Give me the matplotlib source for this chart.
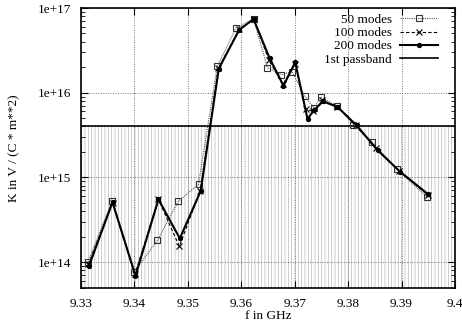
import math
import matplotlib
matplotlib.use("Agg")
import matplotlib.pyplot as plt
from matplotlib.lines import Line2D
from matplotlib.ticker import FixedLocator, LogLocator, FuncFormatter, NullFormatter

plt.rcParams['font.family'] = ['Liberation Serif', 'DejaVu Serif']
plt.rcParams['font.size'] = 9

# 50 modes
f50 = [9.3313, 9.3358, 9.3399, 9.3443, 9.3482, 9.3520, 9.3555, 9.3590, 9.3623, 9.3649,
       9.3675, 9.3695, 9.3719, 9.3736, 9.3749, 9.3780, 9.3810, 9.3845, 9.3892, 9.3947]
k50 = [1.0e14, 5.2e14, 7.6e13, 1.8e14, 5.2e14, 8.3e14, 2.04e16, 5.8e16, 7.4e16, 1.97e16,
       1.63e16, 1.77e16, 9.1e15, 6.6e15, 8.9e15, 6.9e15, 4.2e15, 2.6e15, 1.24e15, 5.9e14]

# 100 modes
f100 = [9.3314, 9.3359, 9.3401, 9.3445, 9.3484, 9.3523, 9.3557, 9.3596, 9.3623, 9.3652,
        9.3678, 9.3700, 9.3721, 9.3735, 9.3752, 9.3780, 9.3814, 9.3852, 9.3895, 9.3949]
k100 = [9.5e13, 5.0e14, 7.2e13, 5.5e14, 1.53e14, 6.9e14, 1.95e16, 5.6e16, 7.4e16, 2.4e16,
        1.25e16, 2.2e16, 6.4e15, 6.0e15, 8.1e15, 6.8e15, 4.1e15, 2.2e15, 1.2e15, 6.2e14]

# 200 modes
f200 = [9.3315, 9.3359, 9.3402, 9.3445, 9.3485, 9.3524, 9.3558, 9.3596, 9.3623, 9.3653,
        9.3679, 9.3701, 9.3724, 9.3736, 9.3753, 9.3780, 9.3816, 9.3855, 9.3897, 9.3950]
k200 = [9.0e13, 5.1e14, 6.9e13, 5.5e14, 1.9e14, 6.9e14, 1.93e16, 5.5e16, 7.4e16, 2.56e16,
        1.21e16, 2.28e16, 4.9e15, 6.2e15, 7.9e15, 6.8e15, 4.1e15, 2.1e15, 1.17e15, 6.3e14]

# 1st passband level
pb_f = [9.33, 9.40]
pb_k = [4e15, 4e15]

xticks = [9.33, 9.34, 9.35, 9.36, 9.37, 9.38, 9.39, 9.40]
xticklabels = ['9.33', '9.34', '9.35', '9.36', '9.37', '9.38', '9.39', '9.4']
yticks = [1e14, 1e15, 1e16, 1e17]

fig = plt.figure(figsize=(4.62, 3.24), dpi=100)
ax = fig.add_axes([0.1753, 0.1111, 0.8095, 0.8642])
ax.set_yscale('log')
ax.set_xlim(9.33, 9.40)
ax.set_ylim(4.94e13, 1e17)

# passband filled with thin grey vertical lines, like the gnuplot pattern
plt.rcParams['hatch.color'] = '#b8b8b8'
plt.rcParams['hatch.linewidth'] = 0.5
ax.fill_between(pb_f, [4.94e13, 4.94e13], pb_k, facecolor='white', edgecolor='#b8b8b8',
                hatch='|||||', linewidth=0, zorder=1)
ax.plot(pb_f, pb_k, color='black', lw=1.2, zorder=2)

ax.grid(True, which='major', linestyle=(0, (1, 1.5)), color='#777777', lw=0.7, zorder=1.5)

ax.plot(f50, k50, color='#555555', lw=0.8, linestyle=(0, (1, 1)), marker='s', ms=4,
        mfc='none', mec='#333333', mew=0.8, zorder=3)
ax.plot(f100, k100, color='black', lw=0.8, linestyle=(0, (3, 2)), marker='x', ms=4,
        mew=0.8, zorder=4)
ax.plot(f200, k200, color='black', lw=1.5, marker='o', ms=2.8, zorder=5)

handles = [
    Line2D([], [], color='#555555', lw=0.8, linestyle=(0, (1, 1)), marker='s', ms=4,
           mfc='none', mec='#333333', mew=0.8),
    Line2D([], [], color='black', lw=0.8, linestyle=(0, (3, 2)), marker='x', ms=4, mew=0.8),
    Line2D([], [], color='black', lw=1.5, marker='o', ms=2.8),
    Line2D([], [], color='black', lw=1.2),
]
labels = ['50 modes', '100 modes', '200 modes', '1st passband']
leg = ax.legend(handles, labels, loc='upper right', frameon=False, markerfirst=False,
                handlelength=2.9, handletextpad=0.6, labelspacing=0.08,
                borderpad=0, borderaxespad=0, bbox_to_anchor=(0.955, 0.98), fontsize=9.5)
leg.set_zorder(6)

ax.xaxis.set_major_locator(FixedLocator(xticks))
ax.set_xticklabels(xticklabels)
ax.yaxis.set_major_locator(FixedLocator(yticks))
ax.yaxis.set_major_formatter(FuncFormatter(lambda v, p: '1e+%d' % round(math.log10(v))))
ax.yaxis.set_minor_locator(LogLocator(base=10, subs=range(2, 10)))
ax.yaxis.set_minor_formatter(NullFormatter())
ax.tick_params(which='both', direction='in', top=True, right=True, labelsize=9.5)
ax.tick_params(which='major', length=5, width=0.8, pad=7)
ax.tick_params(which='minor', length=3, width=0.6)
for s in ax.spines.values():
    s.set_linewidth(1.2)

ax.set_xlabel('f in GHz', fontsize=9.5, labelpad=0)
ax.set_ylabel('K in V / (C * m**2)', fontsize=9.5, labelpad=13)

fig.savefig('out.png', dpi=100)
